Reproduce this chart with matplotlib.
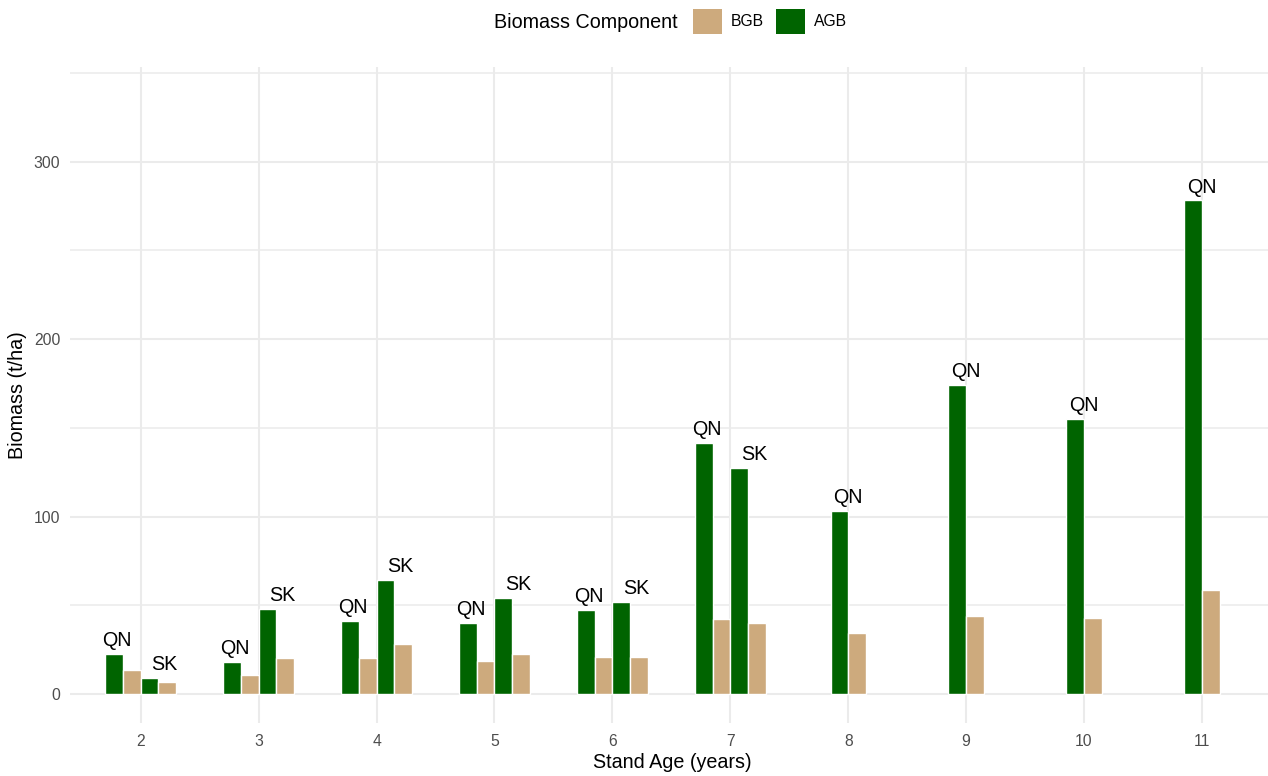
import matplotlib
matplotlib.use("Agg")
import matplotlib.pyplot as plt
from matplotlib.patches import Patch
import numpy as np

plt.rcParams["font.family"] = ["Liberation Sans", "DejaVu Sans"]

# stand ages and biomass (t/ha) per site; None = site not sampled at that age
ages = [2, 3, 4, 5, 6, 7, 8, 9, 10, 11]
qn_agb = [22.6, 18.0, 41.2, 40.0, 47.4, 141.5, 103.3, 174.2, 155.0, 278.2]
qn_bgb = [13.5, 10.9, 20.3, 18.6, 20.9, 42.3, 34.6, 44.0, 42.8, 58.9]
sk_agb = [9.0, 47.9, 64.3, 54.1, 51.9, 127.4, None, None, None, None]
sk_bgb = [6.8, 20.3, 28.2, 22.5, 20.9, 40.0, None, None, None, None]

AGB_COLOR = "#006400"
BGB_COLOR = "#CDAA7D"
BAR_W = 0.15

fig = plt.figure(figsize=(12.68, 7.76), dpi=100)
W, H = 1268, 776
left, right, top, bottom = 70, 1268, 66.7, 723
ax = fig.add_axes([left / W, 1 - bottom / H, (right - left) / W, (bottom - top) / H])

x = np.arange(len(ages)) + 2.0
for i, age in enumerate(ages):
    sites = [("QN", qn_agb[i], qn_bgb[i])]
    if sk_agb[i] is not None:
        sites.append(("SK", sk_agb[i], sk_bgb[i]))
    n = len(sites)
    for j, (site, agb, bgb) in enumerate(sites):
        # each site gets a pair of bars (AGB, BGB)
        pair_center = x[i] + (j - (n - 1) / 2) * 2 * BAR_W
        ax.bar(pair_center - BAR_W / 2, agb, width=BAR_W, color=AGB_COLOR,
               edgecolor="white", linewidth=1.0, zorder=3)
        ax.bar(pair_center + BAR_W / 2, bgb, width=BAR_W, color=BGB_COLOR,
               edgecolor="white", linewidth=1.0, zorder=3)
        label_x = x[i] + (j - (n - 1) / 2) * 0.4
        ax.annotate(site, (label_x, agb), xytext=(0, 5.5), textcoords="offset points",
                    ha="center", va="baseline", fontsize=14.2, color="black", zorder=4)

ax.set_xlim(1.4, 11.56)
ax.set_ylim(-16.35, 353.6)
ax.set_xticks(x)
ax.set_xticklabels([str(a) for a in ages])
ax.set_yticks([0, 100, 200, 300])
ax.set_yticks([50, 150, 250, 350], minor=True)
ax.grid(which="major", color="#EBEBEB", linewidth=1.5, zorder=0)
ax.grid(which="minor", axis="y", color="#EBEBEB", linewidth=1.1, zorder=0)
ax.tick_params(axis="both", which="both", length=0, labelsize=11.3, labelcolor="#4D4D4D")
ax.tick_params(axis="x", pad=8)
ax.tick_params(axis="y", pad=7)
for s in ax.spines.values():
    s.set_visible(False)
ax.set_axisbelow(True)

fig.text(672 / W, 1 - 763 / H, "Stand Age (years)", ha="center", va="center", fontsize=14.2)
fig.text(17.5 / W, 1 - 395 / H, "Biomass (t/ha)", ha="center", va="center",
         rotation=90, fontsize=14.2)

handles = [Patch(facecolor=BGB_COLOR, edgecolor="none"),
           Patch(facecolor=AGB_COLOR, edgecolor="none")]
fig.legend(handles, ["BGB", "AGB"], ncol=2, loc="center",
           bbox_to_anchor=(770 / W, 1 - 21.5 / H), frameon=False, fontsize=11.3,
           handlelength=1.85, handleheight=2.1, handletextpad=0.57,
           columnspacing=0.76, borderpad=0, borderaxespad=0)
fig.text(678 / W, 1 - 23 / H, "Biomass Component", ha="right", va="center", fontsize=14.2)

fig.savefig("out.png", dpi=100, facecolor="white")
